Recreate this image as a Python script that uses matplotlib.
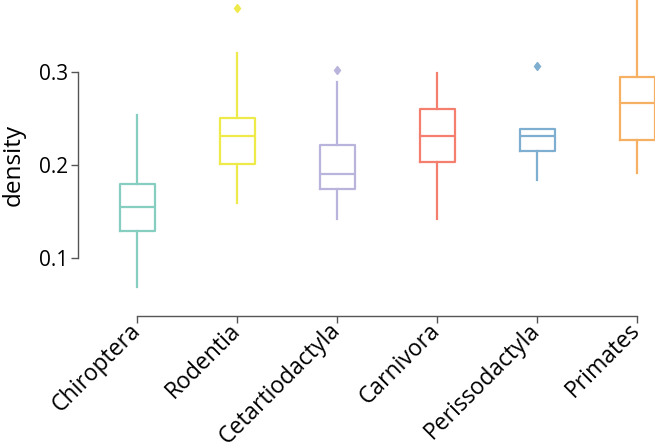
import matplotlib
matplotlib.use('Agg')
import matplotlib.pyplot as plt
import matplotlib.transforms as mtransforms

plt.rcParams['font.family'] = ['Open Sans', 'DejaVu Sans']

orders = ['Chiroptera', 'Rodentia', 'Cetartiodactyla', 'Carnivora', 'Perissodactyla', 'Primates']
whislo = [0.069, 0.159, 0.142, 0.142, 0.184, 0.191]
q1 = [0.129, 0.201, 0.174, 0.203, 0.215, 0.227]
med = [0.155, 0.231, 0.190, 0.231, 0.231, 0.267]
q3 = [0.180, 0.250, 0.222, 0.260, 0.239, 0.294]
whishi = [0.254, 0.320, 0.289, 0.299, 0.239, 0.420]
fliers = [[], [0.368], [0.302], [], [0.306], []]
colors = ['#86cfc0', '#eeea4a', '#b9b4dc', '#f47f6f', '#7eaed0', '#f6b063']

stats = []
for i in range(len(orders)):
    stats.append({'label': orders[i], 'whislo': whislo[i], 'q1': q1[i], 'med': med[i],
                  'q3': q3[i], 'whishi': whishi[i], 'fliers': fliers[i]})

W, H = 655, 448
fig = plt.figure(figsize=(W / 100, H / 100), dpi=100)
# axes placed in pixels; right/top run off the figure like the cropped original
x0, y_bottom = 78, 316
xmin, xmax = -0.59, 5.6
ymin, ymax = 0.0382, 0.40
px_x = 100.0
px_y = 933.0
ax_w = (xmax - xmin) * px_x
ax_h = (ymax - ymin) * px_y
ax = fig.add_axes([x0 / W, 1 - y_bottom / H, ax_w / W, ax_h / H])

for i, s in enumerate(stats):
    c = colors[i]
    ax.bxp([s], positions=[i], widths=0.35, showcaps=False, patch_artist=False,
           boxprops=dict(color=c, linewidth=1.6),
           medianprops=dict(color=c, linewidth=1.6),
           whiskerprops=dict(color=c, linewidth=1.6),
           flierprops=dict(marker='d', markerfacecolor=c, markeredgecolor=c, markersize=4.5))

ax.set_xlim(xmin, xmax)
ax.set_ylim(ymin, ymax)
ax.set_xticks(range(len(orders)))
ax.set_xticklabels(orders, rotation=45, ha='right', va='center', rotation_mode='anchor', fontsize=16.5)
shift = mtransforms.ScaledTranslation(4 / 100, 0, fig.dpi_scale_trans)
for lab in ax.get_xticklabels():
    lab.set_transform(lab.get_transform() + shift)
ax.set_yticks([0.1, 0.2, 0.3])
ax.set_yticklabels(['0.1', '0.2', '0.3'], fontsize=15)
ax.set_ylabel('density', fontsize=17.5)
ax.yaxis.set_label_coords((14 - x0) / ax_w, (y_bottom - 165) / ax_h)
ax.yaxis.label.set_va('center')

for side in ['top', 'right']:
    ax.spines[side].set_visible(False)
for side in ['left', 'bottom']:
    ax.spines[side].set_color('#555555')
    ax.spines[side].set_linewidth(1.0)
ax.spines['left'].set_bounds(0.1, 0.3)
ax.spines['bottom'].set_bounds(0, 5)
ax.tick_params(colors='#555555', length=5, width=1.0, labelcolor='black')
ax.tick_params(axis='x', pad=3)
ax.tick_params(axis='y', pad=2)
ax.set_facecolor('none')

fig.savefig('out.png', dpi=100)
